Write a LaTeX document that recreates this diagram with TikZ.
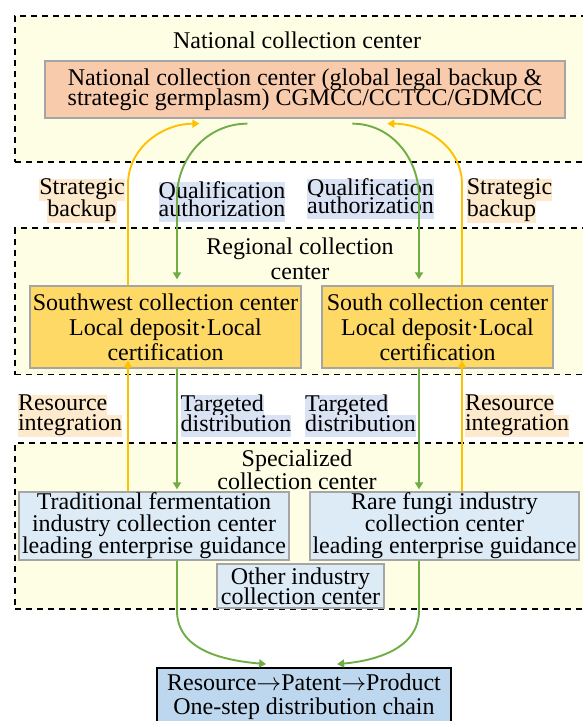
\documentclass[tikz,border=0pt]{standalone}
\usepackage{fontspec}
\setmainfont{Liberation Serif}
\usetikzlibrary{arrows.meta,calc}
\definecolor{zonefill}{HTML}{FEFEE4}
\definecolor{natfill}{HTML}{F8CBAD}
\definecolor{regfill}{HTML}{FFD966}
\definecolor{spefill}{HTML}{DDEBF7}
\definecolor{chainfill}{HTML}{BDD7EE}
\definecolor{boxgrey}{HTML}{A5A5A5}
\definecolor{peachhl}{HTML}{FDE9CB}
\definecolor{bluehl}{HTML}{DAE3F3}
\definecolor{yarrcol}{HTML}{FFC000}
\definecolor{garrcol}{HTML}{70AD47}
\newcommand\myfs[1]{\fontsize{24}{#1}\selectfont\lineskiplimit=-\maxdimen}
\newcommand\hlpeach[1]{{\setlength{\fboxsep}{0pt}\colorbox{peachhl}{\strut #1}}}
\newcommand\hlblue[1]{{\setlength{\fboxsep}{0pt}\colorbox{bluehl}{\strut #1}}}
\newcommand\longarr{{$\rightarrow$}}
\tikzset{
  zone/.style={draw=black, line width=1.8pt, dash pattern=on 6pt off 5pt, fill=zonefill, inner sep=0pt, minimum width=576pt},
  zonetitle/.style={inner sep=0pt, align=center},
  cbox/.style={draw=boxgrey, line width=1.3pt, inner sep=0pt, align=center},
  nbox/.style={cbox, fill=natfill},
  rbox/.style={cbox, fill=regfill},
  sbox/.style={cbox, fill=spefill},
  chainbox/.style={draw=black, line width=1.8pt, fill=chainfill, inner sep=0pt, align=center},
  lbl/.style={inner sep=0pt},
  yarr/.style={draw=yarrcol, line width=1.9pt, -{Triangle[length=7pt,width=8pt]}},
  garr/.style={draw=garrcol, line width=1.9pt, -{Triangle[length=7pt,width=8pt]}}
}
\begin{document}
\begin{tikzpicture}[x=1pt,y=1pt]
\useasboundingbox (0,0) rectangle (582,-721);
% zones
\node[zone, minimum height=146pt] (natzone) at (303,-89) {};
\node[zone, minimum height=146.5pt] (regzone) at (303,-301.25) {};
\node[zone, minimum height=166pt] (spezone) at (303,-526) {};
% zone titles
\node[zonetitle, font=\myfs{25}] (nattitle) at (297,-40) {National collection center};
\node[zonetitle, font=\myfs{25}] (regtitle) at (300,-258.5) {Regional collection\\center};
\node[zonetitle, font=\myfs{23}] (spetitle) at (297,-470) {Specialized\\collection center};
% boxes
\node[nbox, font=\myfs{20}, minimum width=520pt, minimum height=57pt] (natbox) at (305,-89.5)
  {National collection center (global legal backup \&\\strategic germplasm) CGMCC/CCTCC/GDMCC};
\node[rbox, font=\myfs{25}, minimum width=271pt, minimum height=82pt] (sw) at (165.5,-327)
  {Southwest collection center\\Local deposit·Local\\certification};
\node[rbox, font=\myfs{25}, minimum width=231pt, minimum height=82pt] (s) at (437.5,-327)
  {South collection center\\Local deposit·Local\\certification};
\node[sbox, font=\myfs{22}, minimum width=270pt, minimum height=68pt] (trad) at (154,-526)
  {Traditional fermentation\\industry collection center\\leading enterprise guidance};
\node[sbox, font=\myfs{22}, minimum width=269pt, minimum height=68pt] (rare) at (444.5,-526)
  {Rare fungi industry\\collection center\\leading enterprise guidance};
\node[sbox, font=\myfs{20}, minimum width=167pt, minimum height=44pt] (other) at (300.5,-586)
  {Other industry\\collection center};
\node[chainbox, font=\myfs{24}, minimum width=294pt, minimum height=58pt] (chain) at (304,-697)
  {Resource\longarr Patent\longarr Product\\One-step distribution chain};
% labels
\node[lbl, align=center, font=\myfs{22}] (sbL) at (82,-201) {\hlpeach{Strategic}\\\hlpeach{backup}};
\node[lbl, align=left, font=\myfs{18.5}] (qaL) at (222,-202) {\hlblue{Qualification}\\\hlblue{authorization}};
\node[lbl, align=left, font=\myfs{18.5}] (qaR) at (370.5,-199) {\hlblue{Qualification}\\\hlblue{authorization}};
\node[lbl, align=left, font=\myfs{22}] (sbR) at (509.5,-201) {\hlpeach{Strategic}\\\hlpeach{backup}};
\node[lbl, align=left, font=\myfs{20}] (riL) at (70,-416) {\hlpeach{Resource}\\\hlpeach{integration}};
\node[lbl, align=left, font=\myfs{20}] (tdL) at (236,-416) {\hlblue{Targeted}\\\hlblue{distribution}};
\node[lbl, align=left, font=\myfs{20}] (tdR) at (360.5,-416) {\hlblue{Targeted}\\\hlblue{distribution}};
\node[lbl, align=left, font=\myfs{20}] (riR) at (517,-416) {\hlpeach{Resource}\\\hlpeach{integration}};
% arrow columns
\coordinate (xa) at (128,0);
\coordinate (xb) at (177,0);
\coordinate (xc) at (419,0);
\coordinate (xd) at (462,0);
% zone 1 connectors
\draw[yarr] (sw.north -| xa) -- ++(0,101) to[out=90,in=180] ($(natbox.south west)+(155,-5)$);
\draw[garr, shorten >=6pt] ($(natbox.south west)+(203,-5)$) to[out=180,in=90] ($(sw.north -| xb)+(0,88)$) -- (sw.north -| xb);
\draw[garr, shorten >=6pt] ($(natbox.south west)+(308,-5)$) to[out=0,in=90] ($(s.north -| xc)+(0,88)$) -- (s.north -| xc);
\draw[yarr] (s.north -| xd) -- ++(0,101) to[out=90,in=0] ($(natbox.south west)+(343,-5)$);
% zone 2 connectors
\draw[yarr, shorten >=-8pt] (trad.north -| xa) -- (sw.south -| xa);
\draw[garr, shorten >=2pt] (sw.south -| xb) -- (trad.north -| xb);
\draw[garr, shorten >=2pt] (s.south -| xc) -- (rare.north -| xc);
\draw[yarr, shorten >=-8pt] (rare.north -| xd) -- (s.south -| xd);
% zone 3 connectors
\draw[garr] (trad.south -| xb) -- ++(0,-50) to[out=-90,in=175] ($(chain.north west)+(110,3)$);
\draw[garr] (rare.south -| xc) -- ++(0,-50) to[out=-90,in=5] ($(chain.north west)+(181,3)$);
\end{tikzpicture}
\end{document}
